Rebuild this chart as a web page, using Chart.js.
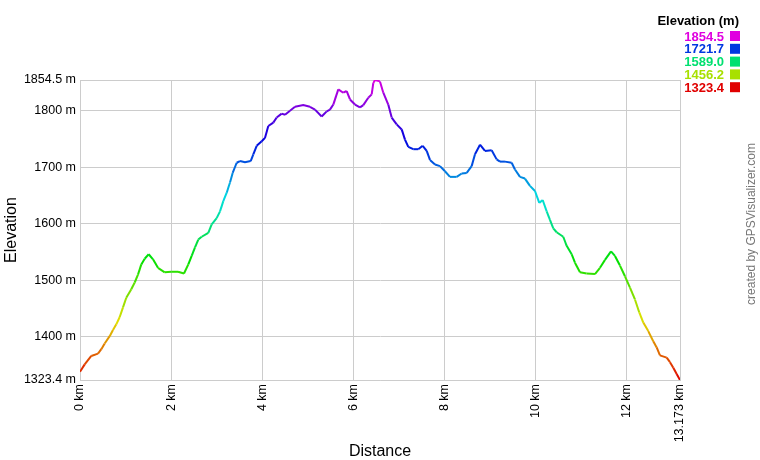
<!DOCTYPE html>
<html>
<head>
<meta charset="utf-8">
<style>
  html, body { margin: 0; padding: 0; background: #fff; }
  #wrap { width: 760px; height: 460px; position: relative; }
</style>
<script src="https://cdn.jsdelivr.net/npm/chart.js@4/dist/chart.umd.min.js"></script>
</head>
<body>
<div id="wrap"><canvas id="profile"></canvas></div>
<script>
// track: distance (km) and elevation (m)
const distKm = [0.000, 0.103, 0.248, 0.395, 0.468, 0.542, 0.652, 0.724, 0.797, 0.872,
  0.944, 1.016, 1.126, 1.201, 1.273, 1.346, 1.420, 1.508, 1.603, 1.712,
  1.860, 2.004, 2.151, 2.283, 2.378, 2.452, 2.525, 2.597, 2.672, 2.817,
  2.891, 3.001, 3.074, 3.146, 3.221, 3.293, 3.352, 3.440, 3.513, 3.622,
  3.748, 3.805, 3.879, 3.989, 4.061, 4.134, 4.244, 4.318, 4.428, 4.501,
  4.610, 4.720, 4.902, 5.049, 5.159, 5.306, 5.416, 5.488, 5.561, 5.671,
  5.780, 5.855, 5.928, 6.037, 6.147, 6.220, 6.329, 6.404, 6.439, 6.476,
  6.586, 6.659, 6.768, 6.843, 6.953, 7.063, 7.135, 7.208, 7.317, 7.427,
  7.524, 7.612, 7.684, 7.794, 7.903, 8.013, 8.123, 8.270, 8.380, 8.490,
  8.599, 8.672, 8.782, 8.891, 9.038, 9.148, 9.221, 9.330, 9.477, 9.550,
  9.660, 9.769, 9.879, 9.989, 10.083, 10.158, 10.246, 10.318, 10.391, 10.465,
  10.610, 10.685, 10.795, 10.867, 10.977, 11.124, 11.306, 11.416, 11.526, 11.658,
  11.745, 11.855, 11.965, 12.075, 12.184, 12.279, 12.367, 12.476, 12.586, 12.661,
  12.733, 12.881, 12.953, 13.026, 13.100, 13.173];
const elevM = [1338, 1351, 1366, 1370, 1378, 1388, 1401, 1412, 1422, 1435,
  1452, 1469, 1484, 1496, 1510, 1528, 1538, 1546, 1537, 1522,
  1514, 1515, 1515, 1512, 1528, 1543, 1558, 1572, 1577, 1584,
  1599, 1610, 1622, 1640, 1655, 1673, 1690, 1708, 1711, 1709,
  1711, 1723, 1738, 1746, 1752, 1773, 1779, 1788, 1795, 1793,
  1800, 1807, 1810, 1807, 1802, 1790, 1799, 1802, 1811, 1838,
  1832, 1835, 1820, 1811, 1806, 1810, 1823, 1829, 1849, 1854.5,
  1852, 1832, 1811, 1788, 1776, 1767, 1749, 1736, 1732, 1732,
  1738, 1729, 1713, 1705, 1702, 1693, 1683, 1683, 1689, 1690,
  1702, 1723, 1740, 1729, 1730, 1714, 1710, 1710, 1708, 1696,
  1683, 1680, 1667, 1658, 1637, 1642, 1622, 1607, 1592, 1585,
  1577, 1561, 1546, 1531, 1514, 1512, 1511, 1522, 1536, 1551,
  1543, 1526, 1507, 1487, 1466, 1443, 1425, 1410, 1392, 1381,
  1367, 1363, 1355, 1345, 1334, 1323.4];

const xTicks = [0, 2, 4, 6, 8, 10, 12, 13.173];
const yTicks = [1323.4, 1400, 1500, 1600, 1700, 1800, 1854.5];
const legendValues = ['1854.5', '1721.7', '1589.0', '1456.2', '1323.4'];

const elevMin = 1323.4, elevMax = 1854.5;

function elevColor(v) {
  let t = (v - elevMin) / (elevMax - elevMin);
  t = Math.max(0, Math.min(1, t));
  return 'hsl(' + (300 * t) + ', 100%, 44%)';
}

const points = distKm.map((d, i) => ({ x: d, y: elevM[i] }));

// legend box top right + credit text on the right edge
const sidePlugin = {
  id: 'side',
  afterDraw(chart) {
    const c = chart.ctx;
    c.save();
    c.fillStyle = '#000';
    c.font = 'bold 13px "Liberation Sans", Arial, sans-serif';
    c.textAlign = 'right';
    c.textBaseline = 'middle';
    c.fillText('Elevation (m)', 739, 21);
    legendValues.forEach((v, i) => {
      const y = 36 + i * 12.8;
      c.fillStyle = elevColor(parseFloat(v));
      c.fillText(v, 724, y + 1);
      c.fillRect(730, y - 5, 10, 10);
    });
    c.translate(752, 224);
    c.rotate(-Math.PI / 2);
    c.textAlign = 'center';
    c.fillStyle = '#777';
    c.font = '12px "Liberation Sans", Arial, sans-serif';
    c.fillText('created by GPSVisualizer.com', 0, 0);
    c.restore();
  }
};

const tickFont = { family: '"Liberation Sans", Arial, sans-serif', size: 12.5 };
const titleFont = { family: '"Liberation Sans", Arial, sans-serif', size: 16, lineHeight: 1 };

new Chart(document.getElementById('profile'), {
  type: 'line',
  data: {
    datasets: [{
      data: points,
      borderWidth: 2,
      pointRadius: 0,
      tension: 0,
      fill: false,
      segment: {
        borderColor: ctx => elevColor((ctx.p0.parsed.y + ctx.p1.parsed.y) / 2)
      }
    }]
  },
  options: {
    responsive: true,
    maintainAspectRatio: false,
    animation: false,
    layout: { padding: { left: 0, right: 80, top: 80, bottom: 0 } },
    plugins: { legend: { display: false }, tooltip: { enabled: false } },
    scales: {
      x: {
        type: 'linear',
        min: 0,
        max: 13.173,
        afterBuildTicks: s => { s.ticks = xTicks.map(v => ({ value: v })); },
        afterFit: s => { s.height = 80; },
        ticks: {
          minRotation: 90,
          maxRotation: 90,
          padding: 4,
          color: '#000',
          font: tickFont,
          callback: v => v + ' km'
        },
        grid: { color: '#cccccc', drawTicks: false },
        border: { color: '#cccccc' },
        title: { display: true, text: 'Distance', color: '#000', font: titleFont, padding: 0 }
      },
      y: {
        min: elevMin,
        max: elevMax,
        afterBuildTicks: s => { s.ticks = yTicks.map(v => ({ value: v })); },
        afterFit: s => { s.width = 80; },
        ticks: {
          padding: 4,
          color: '#000',
          font: tickFont,
          callback: v => v + ' m'
        },
        grid: { color: '#cccccc', drawTicks: false },
        border: { color: '#cccccc' },
        title: { display: true, text: 'Elevation', color: '#000', font: titleFont, padding: { top: 4, bottom: 0 } }
      }
    }
  },
  plugins: [sidePlugin]
});
</script>
</body>
</html>
